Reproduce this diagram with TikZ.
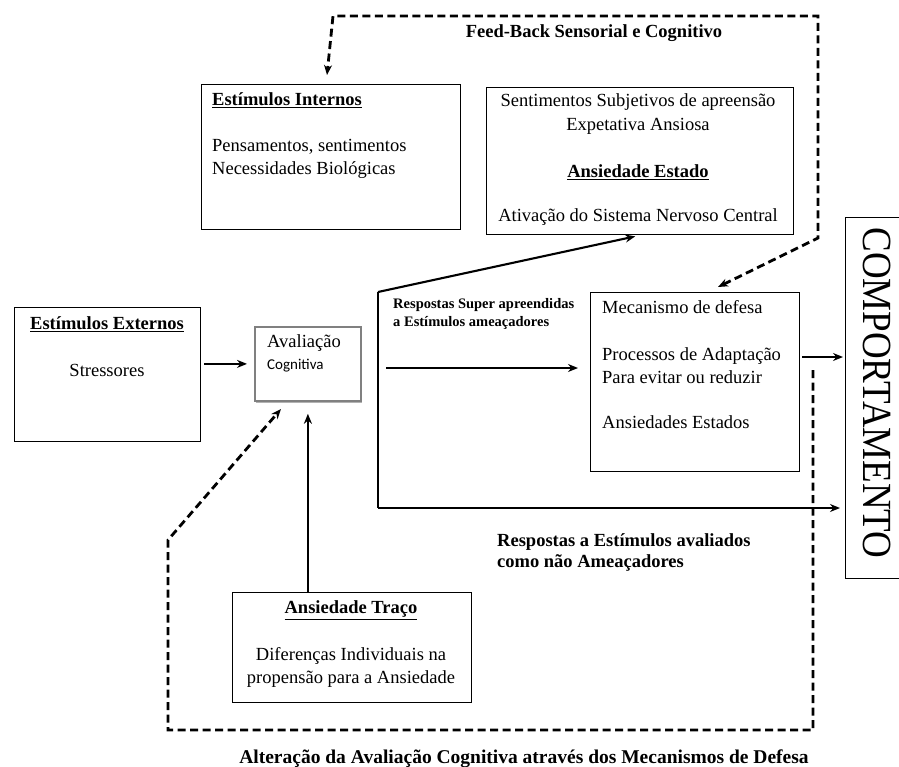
\documentclass[tikz,border=0pt]{standalone}
\usepackage{fontspec}
\setmainfont{Liberation Serif}
\newfontfamily\calibri{Carlito}
\usetikzlibrary{arrows.meta,shadows}

\begin{document}
\begin{tikzpicture}[x=1pt,y=-1pt,
  box/.style={draw,line width=1.3pt,anchor=north west,inner sep=0pt},
  txt/.style={inner sep=0pt,font=\fontsize{18.5}{23}\selectfont},
  btxt/.style={inner sep=0pt,font=\bfseries\fontsize{18.5}{21}\selectfont},
  seta/.style={line width=2.1pt,-{Stealth[length=10pt,width=8pt]}},
  tracejado/.style={line width=2.8pt,dash pattern=on 8pt off 4.5pt,-{Stealth[length=10pt,width=8pt]}}]
\useasboundingbox (0,0) rectangle (899,767);

% caixas
\node[box,minimum width=259pt,minimum height=145pt] (internos) at (201,84) {};
\node[box,minimum width=307pt,minimum height=147pt] (estado) at (486,87) {};
\node[box,minimum width=186pt,minimum height=134pt] (externos) at (14,307) {};
\node[box,minimum width=106pt,minimum height=74pt,draw=black!50,line width=1.8pt,fill=white,
  drop shadow={shadow xshift=1pt,shadow yshift=-2.5pt,fill=black!60}] (avaliacao) at (254,326) {};
\node[box,minimum width=209pt,minimum height=179pt] (mecanismo) at (590,292) {};
\node[box,minimum width=239pt,minimum height=110pt] (traco) at (232,592) {};
\node[box,line width=1.1pt,minimum width=70pt,minimum height=361pt] (comport) at (845,217) {};

% textos
\node[btxt,anchor=west] (tint1) at (212,100) {\underline{Estímulos Internos}};
\node[txt,anchor=west,align=left] (tint2) at (212,158.5) {Pensamentos, sentimentos\\Necessidades Biológicas};

\node[txt,align=center,font=\fontsize{18.5}{24}\selectfont] (test1) at (638,114) {Sentimentos Subjetivos de apreensão\\Expetativa Ansiosa};
\node[btxt] (test2) at (638,172) {\underline{Ansiedade Estado}};
\node[txt] (test3) at (638,217) {Ativação do Sistema Nervoso Central};

\node[btxt] (text1) at (107,324) {\underline{Estímulos Externos}};
\node[txt] (text2) at (107,370) {Stressores};

\node[txt,anchor=west] (taval1) at (267,343) {Avaliação};
\node[txt,anchor=west,font=\calibri\fontsize{15}{18}\selectfont] (taval2) at (267,366) {Cognitiva};

\node[txt,anchor=west] (tmec1) at (602,307) {Mecanismo de defesa};
\node[txt,anchor=west,align=left] (tmec2) at (602,365.5) {Processos de Adaptação\\Para evitar ou reduzir};
\node[txt,anchor=west] (tmec3) at (602,422) {Ansiedades Estados};

\node[btxt] (ttraco1) at (351,610) {\underline{Ansiedade Traço}};
\node[txt,align=center] (ttraco2) at (351,667.5) {Diferenças Individuais na\\propensão para a Ansiedade};

\node[txt,rotate=-90,font=\fontsize{37}{40}\selectfont] (tcomp) at (877,393) {\scalebox{1}[1.12]{COMPORTAMENTO}};

\node[btxt] (tfeed) at (594,33) {Feed-Back Sensorial e Cognitivo};
\node[btxt,anchor=west,align=left,font=\bfseries\fontsize{14.5}{18}\selectfont] (tsuper) at (393,314) {Respostas Super apreendidas\\a Estímulos ameaçadores};
\node[btxt,anchor=west,align=left] (tnao) at (497,552.5) {Respostas a Estímulos avaliados\\como não Ameaçadores};
\node[btxt,font=\bfseries\fontsize{19.5}{22}\selectfont] (talter) at (524,759) {Alteração da Avaliação Cognitiva através dos Mecanismos de Defesa};

% ligacoes
\coordinate (canto) at (378,292);
\coordinate (base) at (378,508);
\coordinate (meio) at (386,368);
\coordinate (saida) at (802,357);

\draw[seta,shorten <=3pt,shorten >=7pt] (externos.east |- avaliacao.west) -- (avaliacao.west);
\draw[seta,shorten >=12pt] (traco.north -| avaliacao.south) -- (avaliacao.south);
\draw[seta,shorten >=5pt] (canto) -- (estado.south);
\draw[line width=2.1pt] (canto) -- (base);
\draw[seta,shorten >=5pt] (base) -- (base -| comport.west);
\draw[seta,shorten >=12pt] (meio) -- (meio -| mecanismo.west);
\draw[seta,shorten >=2pt] (saida) -- (saida -| comport.west);

% retroacao
\coordinate (fb0) at (718,287);
\coordinate (fb1) at (818,238);
\coordinate (fb2) at (818,16);
\coordinate (fb3) at (333,16);
\coordinate (fb4) at (327,75);
\draw[tracejado,{Stealth[length=10pt,width=8pt]}-{Stealth[length=10pt,width=8pt]}]
  (fb0) -- (fb1) -- (fb2) -- (fb3) -- (fb4);
\coordinate (al1) at (813,370);
\coordinate (al2) at (813,730);
\coordinate (al3) at (168,730);
\coordinate (al4) at (168,540);
\coordinate (al5) at (281,409);
\draw[tracejado] (al1) -- (al2) -- (al3) -- (al4) -- (al5);
\end{tikzpicture}
\end{document}
